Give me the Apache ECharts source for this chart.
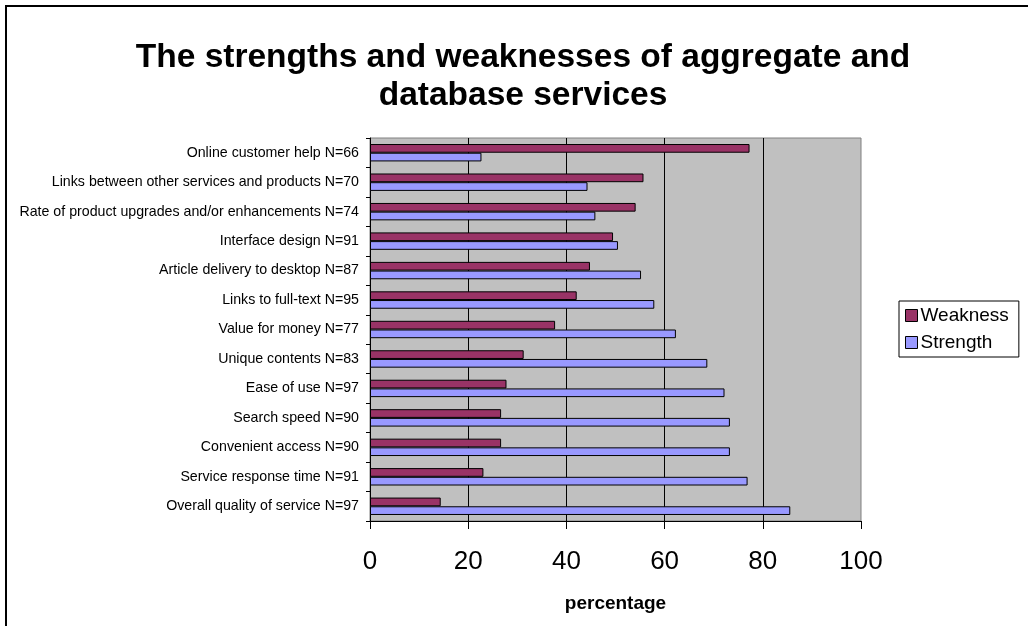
<!DOCTYPE html>
<html>
<head>
<meta charset="utf-8">
<script src="https://cdn.jsdelivr.net/npm/echarts@6/dist/echarts.min.js"></script>
<style>
  html, body { margin: 0; padding: 0; background: #fff; }
  #chart { width: 1028px; height: 626px; }
</style>
</head>
<body>
<div id="chart"></div>
<script>
// Survey items, listed from top to bottom of the chart
const categories = [
  'Online customer help N=66',
  'Links between other services and products N=70',
  'Rate of product upgrades and/or enhancements N=74',
  'Interface design N=91',
  'Article delivery to desktop N=87',
  'Links to full-text N=95',
  'Value for money N=77',
  'Unique contents N=83',
  'Ease of use N=97',
  'Search speed N=90',
  'Convenient access N=90',
  'Service response time N=91',
  'Overall quality of service N=97'
];

// Percentage of respondents rating each item as a weakness / strength
const weakness = [77.3, 55.7, 54.1, 49.5, 44.8, 42.1, 37.7, 31.3, 27.8, 26.7, 26.7, 23.1, 14.4];
const strength = [22.7, 44.3, 45.9, 50.5, 55.2, 57.9, 62.3, 68.7, 72.2, 73.3, 73.3, 76.9, 85.6];

const xTicks = [0, 20, 40, 60, 80, 100];

const FONT = '"Liberation Sans", Arial, sans-serif';

const chart = echarts.init(document.getElementById('chart'), null, { renderer: 'canvas' });

chart.setOption({
  backgroundColor: '#ffffff',
  animation: false,
  title: {
    text: 'The strengths and weaknesses of aggregate and\ndatabase services',
    left: 518,
    top: 34,
    textAlign: 'center',
    textStyle: {
      fontFamily: FONT,
      fontSize: 33.5,
      fontWeight: 'bold',
      color: '#000',
      lineHeight: 38
    }
  },
  graphic: [{
    type: 'rect',
    shape: { x: 6, y: 6, width: 1100, height: 700 },
    style: { fill: 'none', stroke: '#000', lineWidth: 2 },
    silent: true
  }],
  legend: {
    orient: 'vertical',
    left: 899,
    top: 301,
    padding: [5, 10, 5, 6],
    itemGap: 8,
    itemWidth: 12,
    itemHeight: 12,
    borderColor: '#000',
    borderWidth: 1,
    backgroundColor: '#fff',
    icon: 'rect',
    textStyle: { fontFamily: FONT, fontSize: 19, color: '#000', padding: [0, 0, 0, -2] },
    data: [
      { name: 'Weakness', itemStyle: { borderColor: '#000', borderWidth: 1 } },
      { name: 'Strength', itemStyle: { borderColor: '#000', borderWidth: 1 } }
    ]
  },
  grid: {
    left: 370,
    top: 138,
    width: 491,
    height: 383,
    show: true,
    backgroundColor: '#c0c0c0',
    borderColor: '#808080',
    borderWidth: 1
  },
  xAxis: {
    type: 'value',
    min: xTicks[0],
    max: xTicks[xTicks.length - 1],
    interval: xTicks[1] - xTicks[0],
    name: 'percentage',
    nameLocation: 'middle',
    nameGap: 73,
    nameTextStyle: { fontFamily: FONT, fontSize: 19, fontWeight: 'bold', color: '#000' },
    axisLine: { show: true, lineStyle: { color: '#000', width: 1 } },
    axisTick: { show: true, length: 8, lineStyle: { color: '#000' } },
    axisLabel: { fontFamily: FONT, fontSize: 26, color: '#000', margin: 28 },
    splitLine: { show: true, showMinLine: false, showMaxLine: false, lineStyle: { color: '#000', width: 1 } }
  },
  yAxis: {
    type: 'category',
    data: categories,
    inverse: true,
    axisLine: { show: true, lineStyle: { color: '#000', width: 1 } },
    axisTick: { show: true, length: 4, lineStyle: { color: '#000' } },
    axisLabel: { fontFamily: FONT, fontSize: 14.2, color: '#000', margin: 11 },
    splitLine: { show: false }
  },
  series: [
    {
      name: 'Weakness',
      type: 'bar',
      data: weakness,
      barWidth: 8.7,
      barGap: '0%',
      itemStyle: { color: '#993366', borderColor: '#000', borderWidth: 1 }
    },
    {
      name: 'Strength',
      type: 'bar',
      data: strength,
      barWidth: 8.7,
      barGap: '0%',
      itemStyle: { color: '#9999ff', borderColor: '#000', borderWidth: 1 }
    }
  ]
});
</script>
</body>
</html>
